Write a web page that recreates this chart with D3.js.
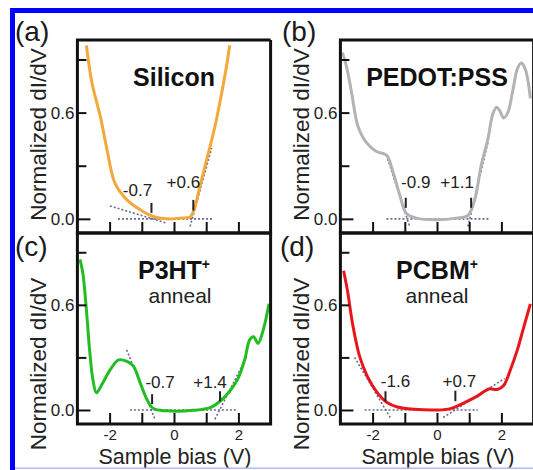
<!DOCTYPE html>
<html>
<head>
<meta charset="UTF-8">
<style>
  body { margin: 0; background: #fff; }
  svg { display: block; font-family: "Liberation Sans", Arial, sans-serif; }
</style>
</head>
<body>
<svg></svg>
<script src="https://d3js.org/d3.v7.min.js"></script>
<script>

let width = 533, height = 470;

// ---- data ----
const xTicks = [-2, -1, 0, 1, 2];
const xTickLabels = {"-2": "-2", "0": "0", "2": "2"};
const yTicks = [0, 0.3, 0.6, 0.9];
const yTickLabels = {"0": "0.0", "0.6": "0.6"};

const siliconV = [-2.72,-2.55,-2.29,-2.08,-1.83,-1.46,-1.05,-0.65,-0.23,0.19,0.5,0.62,0.8,1.01,1.27,1.48,1.63,1.73];
const siliconG = [0.98,0.77,0.58,0.39,0.20,0.107,0.051,0.013,0,0.004,0.01,0.05,0.18,0.33,0.52,0.71,0.86,0.98];

const pedotV = [-2.94,-2.81,-2.65,-2.45,-2.19,-1.88,-1.57,-1.36,-1.15,-0.95,-0.64,0,0.6,0.96,1.17,1.37,1.58,1.73,1.85,1.95,2.07,2.2,2.35,2.5,2.62,2.75,2.9];
const pedotG = [0.94,0.86,0.71,0.52,0.43,0.38,0.36,0.26,0.13,0.03,0.004,-0.005,0.004,0.02,0.107,0.30,0.45,0.59,0.63,0.61,0.57,0.60,0.72,0.85,0.88,0.84,0.68];

const p3htV = [-2.92,-2.83,-2.72,-2.62,-2.52,-2.41,-2.24,-1.98,-1.72,-1.46,-1.26,-1.05,-0.84,-0.64,-0.23,0.6,1.12,1.43,1.73,1.99,2.2,2.35,2.47,2.61,2.77,2.95];
const p3htG = [0.86,0.78,0.57,0.34,0.175,0.098,0.145,0.23,0.286,0.277,0.25,0.155,0.06,0.008,-0.005,-0.002,0.013,0.05,0.107,0.18,0.29,0.40,0.418,0.38,0.456,0.606];

const pcbmV = [-2.9,-2.78,-2.62,-2.41,-2.16,-1.85,-1.54,-1.23,-0.71,0,0.42,0.84,1.25,1.61,1.87,2.07,2.28,2.49,2.69,2.9];
const pcbmG = [0.795,0.68,0.49,0.31,0.19,0.098,0.041,0.017,0.004,0,0.008,0.041,0.079,0.12,0.117,0.14,0.23,0.34,0.47,0.606];

// dotted tangent / baseline fits: [[v1,g1],[v2,g2]]
const siliconFits = [[[-1.74,0],[1.18,0]], [[-1.99,0.073],[-0.23,-0.024]], [[0.5,-0.043],[1.17,0.40]]];
const pedotFits = [[[-1.57,0],[1.64,0]], [[-1.57,0.36],[-0.85,-0.043]], [[0.96,-0.043],[1.58,0.43]]];
const p3htFits = [[[-1.37,0],[1.99,0]], [[-1.47,0.343],[-0.59,-0.053]], [[1.27,-0.053],[2.26,0.305]]];
const pcbmFits = [[[-2.25,0],[1.27,0]], [[-2.56,0.30],[-1.42,-0.053]], [[0.19,-0.043],[2.1,0.18]]];

// onset markers: position and label
const siliconOnsets = [[-0.7, 0.034, 0.09, "-0.7"], [0.6, 0.047, 0.107, "+0.6"]];
const pedotOnsets = [[-0.97, 0.062, 0.119, "-0.9"], [1.06, 0.062, 0.119, "+1.1"]];
const p3htOnsets = [[-0.68, 0.034, 0.09, "-0.7"], [1.43, 0.05, 0.107, "+1.4"]];
const pcbmOnsets = [[-1.6, 0.05, 0.107, "-1.6"], [0.57, 0.05, 0.11, "+0.7"]];

// ---- layout ----
let svg = d3.select("svg")
    .attr("width", width)
    .attr("height", height);

svg.append("rect").attr("width", width).attr("height", height).attr("fill", "#fff");

let panels = [
    {tag: "(a)", tagX: 15, tagY: 41, x0: 77.4, x1: 270.6, top: 40, bottom: 233,
     v: siliconV, g: siliconG, color: "#f2a83a", fits: siliconFits, onsets: siliconOnsets,
     labelPos: [[-14, 196], [-10, 188]], title: "Silicon", sup: null, sub: null, xLabels: false},
    {tag: "(b)", tagX: 282, tagY: 41, x0: 340.4, x1: 533.6, top: 40, bottom: 233,
     v: pedotV, g: pedotG, color: "#b3b3b3", fits: pedotFits, onsets: pedotOnsets,
     labelPos: [[10, 188], [-14, 188]], title: "PEDOT:PSS", sup: null, sub: null, xLabels: false},
    {tag: "(c)", tagX: 15, tagY: 256, x0: 77.4, x1: 270.6, top: 233, bottom: 424,
     v: p3htV, g: p3htG, color: "#22bd22", fits: p3htFits, onsets: p3htOnsets,
     labelPos: [[8, 388], [-10, 388]], title: "P3HT", sup: "+", sub: "anneal", subDx: 6, xLabels: true},
    {tag: "(d)", tagX: 280, tagY: 256, x0: 340.4, x1: 533.6, top: 233, bottom: 424,
     v: pcbmV, g: pcbmG, color: "#e8161c", fits: pcbmFits, onsets: pcbmOnsets,
     labelPos: [[10, 387], [4, 387]], title: "PCBM", sup: "+", sub: "anneal", subDx: 0, xLabels: true}
];

let defs = svg.append("defs");

panels.forEach((p, i) => {
    let x = d3.scaleLinear().domain([-3, 3]).range([p.x0, p.x1]);
    let y = d3.scaleLinear().domain([-0.08, 1.01]).range([p.bottom, p.top]);
    let g = svg.append("g");

    defs.append("clipPath").attr("id", "clip" + i)
        .append("rect")
        .attr("x", p.x0).attr("y", p.top)
        .attr("width", p.x1 - p.x0).attr("height", p.bottom - p.top);

    // dotted fits
    g.append("g").selectAll("line")
        .data(p.fits)
        .enter().append("line")
        .attr("x1", d => x(d[0][0])).attr("y1", d => y(d[0][1]))
        .attr("x2", d => x(d[1][0])).attr("y2", d => y(d[1][1]))
        .attr("stroke", "#6a6a92")
        .attr("stroke-width", 1.6)
        .attr("stroke-dasharray", "2,2");

    // curve
    let pts = p.v.map((v, k) => [v, p.g[k]]);
    g.append("path")
        .datum(pts)
        .attr("clip-path", "url(#clip" + i + ")")
        .attr("fill", "none")
        .attr("stroke", p.color)
        .attr("stroke-width", 3)
        .attr("stroke-linejoin", "round")
        .attr("d", d3.line().x(d => x(d[0])).y(d => y(d[1])).curve(d3.curveCatmullRom.alpha(0.5)));

    // onset markers
    g.append("g").selectAll("line")
        .data(p.onsets)
        .enter().append("line")
        .attr("x1", d => x(d[0])).attr("x2", d => x(d[0]))
        .attr("y1", d => y(d[1])).attr("y2", d => y(d[2]))
        .attr("stroke", "#222")
        .attr("stroke-width", 2);
    g.append("g").selectAll("text")
        .data(p.onsets)
        .enter().append("text")
        .attr("x", (d, k) => x(d[0]) + p.labelPos[k][0])
        .attr("y", (d, k) => p.labelPos[k][1])
        .attr("text-anchor", "middle")
        .attr("font-size", 17)
        .attr("fill", "#222")
        .text(d => d[3]);

    // axes
    let yAxis = d3.axisLeft(y)
        .tickValues(yTicks)
        .tickSize(-9)
        .tickPadding(3)
        .tickFormat(d => yTickLabels[String(d)] || "");
    let ya = g.append("g").attr("transform", `translate(${p.x0},0)`).call(yAxis);
    ya.select(".domain").remove();
    ya.selectAll(".tick line").attr("stroke", "#111").attr("stroke-width", 2)
        .attr("x2", d => d === 0 ? 13 : 9);
    ya.selectAll(".tick text").attr("font-size", 17).attr("fill", "#222")
        .attr("font-family", "'Liberation Sans', Arial, sans-serif");

    let xAxis = d3.axisBottom(x)
        .tickValues(xTicks)
        .tickSize(-11)
        .tickPadding(5)
        .tickFormat(d => p.xLabels ? (xTickLabels[String(d)] || "") : "");
    let xa = g.append("g").attr("transform", `translate(0,${p.bottom})`).call(xAxis);
    xa.select(".domain").remove();
    xa.selectAll(".tick line").attr("stroke", "#111").attr("stroke-width", 2);
    xa.selectAll(".tick text").attr("font-size", 15).attr("fill", "#222")
        .attr("font-family", "'Liberation Sans', Arial, sans-serif");

    // frame
    g.append("path")
        .attr("d", `M${p.x1},${p.top}H${p.x0}V${p.bottom}H${p.x1}V${p.top}`)
        .attr("fill", "none")
        .attr("stroke", "#111")
        .attr("stroke-width", 3);

    // y label
    g.append("text")
        .attr("transform", `translate(${p.x0 - 31},${p.top === 40 ? 134.5 : 364}) rotate(-90)`)
        .attr("text-anchor", "middle")
        .attr("font-size", 22.5)
        .attr("fill", "#222")
        .text("Normalized dI/dV");

    // x label
    if (p.xLabels) {
        g.append("text")
            .attr("x", x(0) + 1)
            .attr("y", 464)
            .attr("text-anchor", "middle")
            .attr("font-size", 21.5)
            .attr("fill", "#222")
            .text("Sample bias (V)");
    }

    // panel tag
    g.append("text")
        .attr("x", p.tagX)
        .attr("y", p.tagY)
        .attr("font-size", 28)
        .attr("fill", "#1a1a1a")
        .text(p.tag);

    // title
    let t = g.append("text")
        .attr("x", x(0))
        .attr("y", p.top === 40 ? 86 : 279)
        .attr("text-anchor", "middle")
        .attr("font-size", 25)
        .attr("font-weight", "bold")
        .attr("fill", "#111");
    t.append("tspan").text(p.title);
    if (p.sup) {
        t.append("tspan").attr("font-size", 14).attr("dy", -10).text(p.sup);
    }
    if (p.sub) {
        g.append("text")
            .attr("x", x(0) + p.subDx)
            .attr("y", 303)
            .attr("text-anchor", "middle")
            .attr("font-size", 21)
            .attr("fill", "#222")
            .text(p.sub);
    }
});

// blue frame around the figure
svg.append("rect").attr("x", 10).attr("y", 8).attr("width", 5).attr("height", height - 8).attr("fill", "#0000ff");
svg.append("rect").attr("x", 10).attr("y", 8).attr("width", width - 10).attr("height", 5).attr("fill", "#0000ff");
svg.append("rect").attr("x", 15).attr("y", 467.5).attr("width", width - 15).attr("height", 1.5).attr("fill", "#b4b8f4");

</script>
</body>
</html>
